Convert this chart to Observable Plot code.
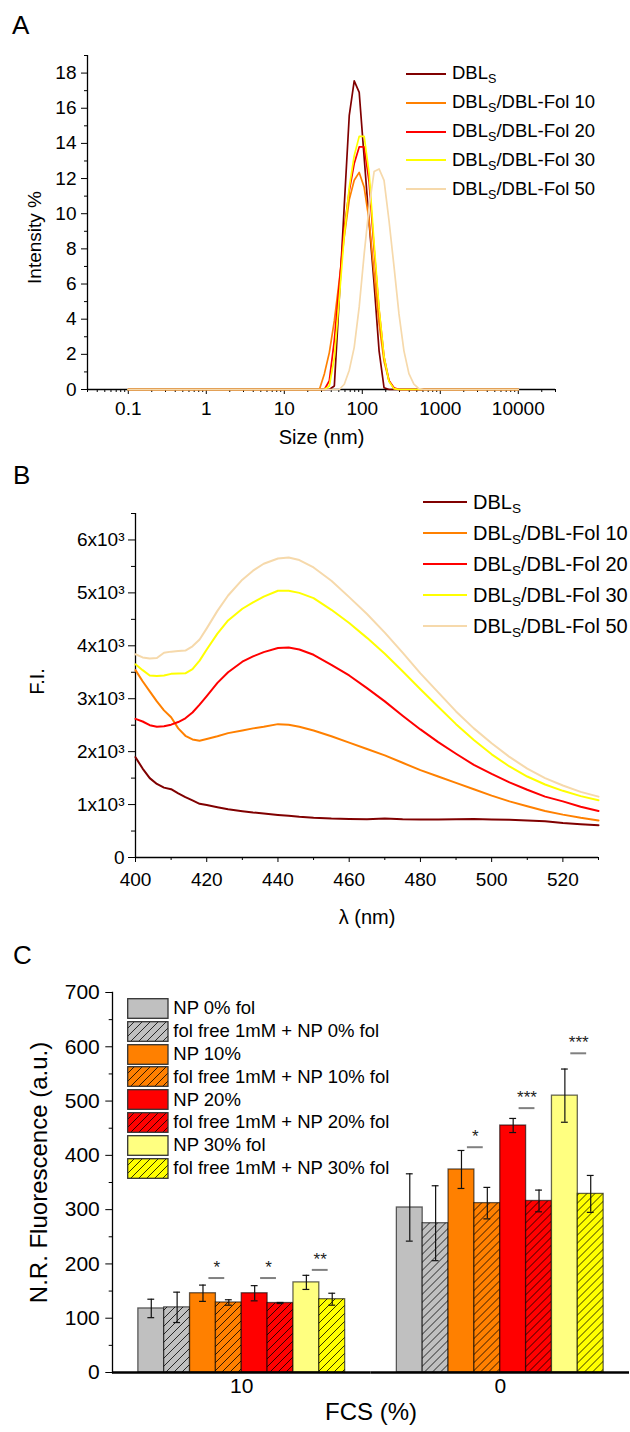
<!DOCTYPE html>
<html>
<head>
<meta charset="utf-8">
<script src="https://cdn.jsdelivr.net/npm/d3@7"></script>
<script src="https://cdn.jsdelivr.net/npm/@observablehq/plot@0.6"></script>
<style>
  html, body { margin: 0; padding: 0; background: #fff; }
  body { font-family: 'Liberation Sans', Arial, Helvetica, sans-serif; color: #000; }
  #root { position: relative; width: 630px; height: 1432px; overflow: hidden; background: #fff; }
  .legrow { position: absolute; white-space: nowrap; color: #000; }
  .legrow sub { font-size: 0.68em; vertical-align: -0.32em; line-height: 0; }
  .letter { position: absolute; font-size: 26px; line-height: 26px; }
</style>
</head>
<body>
<svg width="0" height="0" style="position:absolute;left:0;top:0">
  <defs>
    <pattern id="hatch-gray" width="8" height="8" patternUnits="userSpaceOnUse">
      <rect width="8" height="8" fill="#C0C0C0"/>
      <path d="M-2,2 L2,-2 M0,8 L8,0 M6,10 L10,6" stroke="#000" stroke-width="0.8"/>
    </pattern>
    <pattern id="hatch-orange" width="8" height="8" patternUnits="userSpaceOnUse">
      <rect width="8" height="8" fill="#FF8000"/>
      <path d="M-2,2 L2,-2 M0,8 L8,0 M6,10 L10,6" stroke="#000" stroke-width="0.8"/>
    </pattern>
    <pattern id="hatch-red" width="8" height="8" patternUnits="userSpaceOnUse">
      <rect width="8" height="8" fill="#FF0000"/>
      <path d="M-2,2 L2,-2 M0,8 L8,0 M6,10 L10,6" stroke="#000" stroke-width="0.8"/>
    </pattern>
    <pattern id="hatch-yellow" width="8" height="8" patternUnits="userSpaceOnUse">
      <rect width="8" height="8" fill="#FFFF00"/>
      <path d="M-2,2 L2,-2 M0,8 L8,0 M6,10 L10,6" stroke="#000" stroke-width="0.8"/>
    </pattern>
  </defs>
</svg>
<div id="root"></div>
<script>
// ================= DATA =================
// Shared series (panels A and B)
const seriesNames = ["DBLs", "DBLs/DBL-Fol 10", "DBLs/DBL-Fol 20", "DBLs/DBL-Fol 30", "DBLs/DBL-Fol 50"];
const seriesColors = ["#800000", "#FF8000", "#FF0000", "#FFFF00", "#F6D9AB"];

// Panel A : DLS size distribution (Intensity %)
const dlsSize  = [0.1, 28.2, 32.7, 37.8, 43.8, 50.7, 58.8, 68.1, 78.8, 91.3, 105.7, 122.4, 141.8, 164.2, 190.1, 220.2, 255.0, 295.3, 342.0, 396.1, 458.7, 531.2, 615.1, 10000];
const dlsDBLs  = [0, 0, 0, 0, 0.2, 5.2, 10.5, 15.6, 17.56, 16.9, 13.2, 9.5, 6.0, 2.2, 0.1, 0, 0, 0, 0, 0, 0, 0, 0, 0];
const dlsFol10 = [0, 0, 0.9, 2.1, 3.9, 6.2, 8.7, 10.8, 11.9, 12.35, 11.5, 9.6, 6.6, 3.75, 1.6, 0.5, 0.05, 0, 0, 0, 0, 0, 0, 0];
const dlsFol20 = [0, 0, 0, 0.5, 2.8, 6.0, 9.2, 11.3, 12.85, 13.8, 13.8, 11.8, 8.0, 4.5, 1.85, 0.5, 0.1, 0, 0, 0, 0, 0, 0, 0];
const dlsFol30 = [0, 0, 0, 0.2, 1.8, 5.2, 8.8, 11.5, 13.3, 14.4, 14.4, 12.3, 8.3, 4.6, 1.85, 0.45, 0.05, 0, 0, 0, 0, 0, 0, 0];
const dlsFol50 = [0, 0, 0, 0, 0, 0, 0.3, 1.1, 2.4, 4.7, 7.7, 10.4, 12.4, 12.55, 11.9, 9.6, 7.0, 4.3, 2.2, 0.9, 0.3, 0.05, 0, 0];
const aMajorX = [0.1, 1, 10, 100, 1000, 10000];
const aMajorXLabels = ["0.1", "1", "10", "100", "1000", "10000"];
const aMajorY = [0, 2, 4, 6, 8, 10, 12, 14, 16, 18];
const aMinorY = [1, 3, 5, 7, 9, 11, 13, 15, 17, 19];

// Panel B : fluorescence spectra (F.I.)
const wl       = [400, 402, 404, 406, 408, 410, 412, 414, 416, 418, 420, 423, 426, 430, 433, 436, 440, 443, 446, 450, 455, 460, 465, 470, 475, 480, 485, 490, 495, 500, 505, 510, 515, 520, 525, 530];
const fiDBLs   = [1895, 1680, 1500, 1390, 1320, 1290, 1210, 1140, 1080, 1015, 990, 950, 910, 875, 850, 830, 805, 790, 770, 750, 735, 728, 722, 735, 722, 720, 718, 725, 728, 720, 712, 700, 685, 650, 630, 610];
const fiFol10  = [3540, 3330, 3140, 2950, 2780, 2650, 2440, 2300, 2230, 2205, 2240, 2290, 2350, 2400, 2440, 2470, 2520, 2510, 2470, 2400, 2290, 2170, 2050, 1930, 1790, 1650, 1530, 1410, 1290, 1170, 1060, 970, 880, 810, 750, 700];
const fiFol20  = [2620, 2570, 2500, 2470, 2480, 2510, 2560, 2630, 2740, 2890, 3050, 3300, 3500, 3700, 3800, 3880, 3960, 3970, 3930, 3830, 3640, 3440, 3200, 2950, 2680, 2420, 2180, 1960, 1750, 1580, 1420, 1280, 1150, 1060, 960, 880];
const fiFol30  = [3650, 3540, 3440, 3430, 3440, 3470, 3475, 3480, 3560, 3720, 3930, 4230, 4480, 4700, 4820, 4930, 5040, 5040, 5000, 4900, 4680, 4430, 4150, 3850, 3520, 3180, 2850, 2520, 2220, 1950, 1720, 1530, 1380, 1260, 1160, 1080];
const fiFol50  = [3840, 3780, 3760, 3770, 3870, 3890, 3900, 3910, 3990, 4120, 4330, 4660, 4950, 5250, 5420, 5550, 5650, 5670, 5620, 5480, 5230, 4920, 4600, 4250, 3870, 3480, 3120, 2760, 2440, 2160, 1900, 1680, 1500, 1360, 1240, 1150];
const bMajorX = [400, 420, 440, 460, 480, 500, 520];
const bMinorX = [410, 430, 450, 470, 490, 510, 530];
const bMajorY = [0, 1000, 2000, 3000, 4000, 5000, 6000];
const bMajorYLabels = ["0", "1x10³", "2x10³", "3x10³", "4x10³", "5x10³", "6x10³"];
const bMinorY = [500, 1500, 2500, 3500, 4500, 5500, 6500];

// Panel C : N.R. fluorescence bars
const fcsGroups = ["10", "0"];
const barSeries = ["NP 0% fol", "fol free 1mM + NP 0% fol", "NP 10%", "fol free 1mM + NP 10% fol", "NP 20%", "fol free 1mM + NP 20% fol", "NP 30% fol", "fol free 1mM + NP 30% fol"];
const barFills = ["#C0C0C0", "url(#hatch-gray)", "#FF8000", "url(#hatch-orange)", "#FF0000", "url(#hatch-red)", "#FFFF80", "url(#hatch-yellow)"];
const meanFCS10 = [118, 120, 146, 129, 146, 128, 166, 135];
const errFCS10  = [17, 28, 15, 5, 14, 1, 13, 11];
const meanFCS0  = [304, 275, 374, 312, 455, 316, 510, 329];
const errFCS0   = [62, 69, 35, 29, 13, 20, 49, 34];
const cMajorY = [0, 100, 200, 300, 400, 500, 600, 700];
const cMinorY = [50, 150, 250, 350, 450, 550, 650];
const sigGroup  = ["10", "10", "10", "0", "0", "0"];
const sigSeries = ["fol free 1mM + NP 10% fol", "fol free 1mM + NP 20% fol", "fol free 1mM + NP 30% fol", "fol free 1mM + NP 10% fol", "fol free 1mM + NP 20% fol", "fol free 1mM + NP 30% fol"];
const sigLevel  = [174, 174, 189, 415, 487, 588];
const sigLabel  = ["*", "*", "**", "*", "***", "***"];

// ================= RENDER =================
const FONT = "'Liberation Sans', Arial, Helvetica, sans-serif";
const root = document.getElementById("root");
function place(el, left, top) {
  el.style.position = "absolute";
  el.style.left = left + "px";
  el.style.top = top + "px";
  root.appendChild(el);
  return el;
}
function letter(t, left, top) {
  const d = document.createElement("div");
  d.className = "letter"; d.textContent = t;
  place(d, left, top);
}
function legendText(x, yc, fs, html) {
  const d = document.createElement("div");
  d.className = "legrow";
  d.style.fontSize = fs + "px";
  d.style.lineHeight = fs + "px";
  d.innerHTML = html;
  place(d, x, yc - fs / 2);
}
function lineSwatch(x1, x2, yc, color, w) {
  const d = document.createElement("div");
  d.style.width = (x2 - x1) + "px";
  d.style.height = w + "px";
  d.style.background = color;
  place(d, x1, yc - w / 2);
}
const subHtml = (s) => s.replace("DBLs", "DBL<sub>S</sub>");
const baseStyle = {fontFamily: FONT, color: "#000", background: "transparent", overflow: "visible"};

// ---------- Panel A ----------
const dlsValues = [dlsDBLs, dlsFol10, dlsFol20, dlsFol30, dlsFol50];
const dlsRows = seriesNames.flatMap((name, i) => dlsSize.map((size, j) => ({name, size, value: dlsValues[i][j]})));
const aDomainX = [0.03, 30000];
const aMinorX = d3.scaleLog().domain(aDomainX).ticks().filter(t => !aMajorX.some(m => Math.abs(m - t) / m < 1e-6));

const plotA = Plot.plot({
  width: 630, height: 460,
  marginLeft: 87, marginRight: 75, marginTop: 55, marginBottom: 71,
  style: baseStyle,
  x: {type: "log", domain: aDomainX},
  y: {domain: [0, 19]},
  color: {domain: seriesNames, range: seriesColors},
  marks: [
    Plot.axisX({ticks: aMinorX, tickSize: 3, tickFormat: () => "", label: null}),
    Plot.axisX({ticks: aMajorX, tickSize: 5, tickPadding: 7, tickFormat: d => aMajorXLabels[aMajorX.indexOf(d)], label: null, fontSize: 19}),
    Plot.axisY({ticks: aMinorY, tickSize: 3, tickFormat: () => "", label: null}),
    Plot.axisY({ticks: aMajorY, tickSize: 6, tickPadding: 5, label: null, fontSize: 19}),
    Plot.ruleX([aDomainX[0]], {strokeWidth: 1.3}),
    Plot.ruleY([0], {strokeWidth: 1.3}),
    Plot.line(dlsRows, {x: "size", y: "value", z: "name", stroke: "name", strokeWidth: 1.7}),
    Plot.text(["Intensity %"], {frameAnchor: "left", textAnchor: "middle", rotate: -90, dx: -53, dy: 15, fontSize: 19}),
    Plot.text(["Size (nm)"], {frameAnchor: "bottom", textAnchor: "middle", dy: 54, fontSize: 20})
  ]
});
place(plotA, 0, 0);
letter("A", 12, 12);
seriesNames.forEach((name, i) => {
  const y = 73.7 + i * 28.9;
  lineSwatch(405.5, 446, y, seriesColors[i], 2);
  legendText(452, y, 18.5, subHtml(name));
});

// ---------- Panel B ----------
const fiValues = [fiDBLs, fiFol10, fiFol20, fiFol30, fiFol50];
const fiRows = seriesNames.flatMap((name, i) => wl.map((w, j) => ({name, wl: w, value: fiValues[i][j]})));
const plotB = Plot.plot({
  width: 630, height: 470,
  marginLeft: 135, marginRight: 32, marginTop: 53, marginBottom: 73,
  style: baseStyle,
  x: {domain: [400, 530]},
  y: {domain: [0, 6500]},
  color: {domain: seriesNames, range: seriesColors},
  marks: [
    Plot.axisX({ticks: bMinorX, tickSize: 3, tickFormat: () => "", label: null}),
    Plot.axisX({ticks: bMajorX, tickSize: 5, tickPadding: 10, tickFormat: d => String(d), label: null, fontSize: 19}),
    Plot.axisY({ticks: bMinorY, tickSize: 4, tickFormat: () => "", label: null}),
    Plot.axisY({ticks: bMajorY, tickSize: 7, tickPadding: 4, tickFormat: d => bMajorYLabels[bMajorY.indexOf(d)], label: null, fontSize: 19}),
    Plot.ruleX([400], {strokeWidth: 1.3}),
    Plot.ruleY([0], {strokeWidth: 1.3}),
    Plot.line(fiRows, {x: "wl", y: "value", z: "name", stroke: "name", strokeWidth: 2, curve: "linear"}),
    Plot.text(["F.I."], {frameAnchor: "left", textAnchor: "middle", rotate: -90, dx: -98, dy: -4, fontSize: 20}),
    Plot.text(["λ (nm)"], {frameAnchor: "bottom", textAnchor: "middle", dy: 66, fontSize: 20})
  ]
});
place(plotB, 0, 460);
letter("B", 13, 462);
seriesNames.forEach((name, i) => {
  const y = 501.7 + i * 31.1;
  lineSwatch(423, 467, y, seriesColors[i], 2);
  legendText(473, y, 20, subHtml(name));
});

// ---------- Panel C ----------
const barRows = [];
fcsGroups.forEach((g, gi) => {
  const means = gi === 0 ? meanFCS10 : meanFCS0;
  const errs = gi === 0 ? errFCS10 : errFCS0;
  barSeries.forEach((s, i) => barRows.push({fcs: g, series: s, value: means[i], err: errs[i], fill: barFills[i]}));
});
const sigRows = sigGroup.map((g, i) => ({fcs: g, series: sigSeries[i], y: sigLevel[i], label: sigLabel[i]}));

const plotC = Plot.plot({
  width: 630, height: 502,
  marginLeft: 112, marginRight: 1, marginTop: 62, marginBottom: 60,
  style: baseStyle,
  fx: {domain: fcsGroups, paddingInner: 0, paddingOuter: 0, round: false},
  x: {domain: barSeries, paddingInner: 0, paddingOuter: 1, round: false, axis: null},
  y: {domain: [0, 700]},
  color: {type: "identity"},
  marks: [
    Plot.barY(barRows, {fx: "fcs", x: "series", y: "value", fill: "fill", stroke: "#000", strokeOpacity: 0.6, strokeWidth: 1.3}),
    Plot.ruleX(barRows, {fx: "fcs", x: "series", y1: d => d.value - d.err, y2: d => d.value + d.err, stroke: "#111", strokeWidth: 1.2}),
    Plot.tickY(barRows, {fx: "fcs", x: "series", y: d => d.value + d.err, stroke: "#111", strokeWidth: 1.2, insetLeft: 9.5, insetRight: 9.5}),
    Plot.tickY(barRows, {fx: "fcs", x: "series", y: d => d.value - d.err, stroke: "#111", strokeWidth: 1.2, insetLeft: 9.5, insetRight: 9.5}),
    Plot.tickY(sigRows, {fx: "fcs", x: "series", y: "y", dx: -12, insetLeft: 5, insetRight: 5, stroke: "#808080", strokeWidth: 2}),
    Plot.text(sigRows, {fx: "fcs", x: "series", y: "y", text: "label", dx: -12, dy: -5, lineAnchor: "bottom", fontSize: 17, fill: "#222"}),
    Plot.ruleY([0], {strokeWidth: 2.5}),
    Plot.frame({anchor: "left", facetAnchor: "left", strokeWidth: 1.3}),
    Plot.axisY({ticks: cMinorY, tickSize: 3.3, tickFormat: () => "", label: null}),
    Plot.axisY({ticks: cMajorY, tickSize: 6.7, tickPadding: 6, label: null, fontSize: 21}),
    Plot.axisFx({anchor: "bottom", tickSize: 0, tickPadding: 6, label: null, fontSize: 21}),
    Plot.text(["N.R. Fluorescence (a.u.)"], {fx: () => "10", frameAnchor: "left", textAnchor: "middle", rotate: -90, dx: -73, dy: -10, fontSize: 24}),
    Plot.text(["FCS (%)"], {fx: () => "10", frameAnchor: "bottom-right", textAnchor: "middle", dy: 47, fontSize: 24})
  ]
});
place(plotC, 0, 930);
letter("C", 13, 942);
barSeries.forEach((name, i) => {
  const top = 997.7 + i * 22.9;
  const ns = "http://www.w3.org/2000/svg";
  const sw = document.createElementNS(ns, "svg");
  sw.setAttribute("width", 42); sw.setAttribute("height", 22);
  const r = document.createElementNS(ns, "rect");
  r.setAttribute("x", 0.7); r.setAttribute("y", 0.7); r.setAttribute("width", 40.3); r.setAttribute("height", 19.6);
  r.setAttribute("fill", barFills[i]); r.setAttribute("stroke", "#333"); r.setAttribute("stroke-width", 1.3);
  sw.appendChild(r);
  place(sw, 127, top);
  legendText(173.3, top + 10.5, 18.5, name);
});
</script>
</body>
</html>
